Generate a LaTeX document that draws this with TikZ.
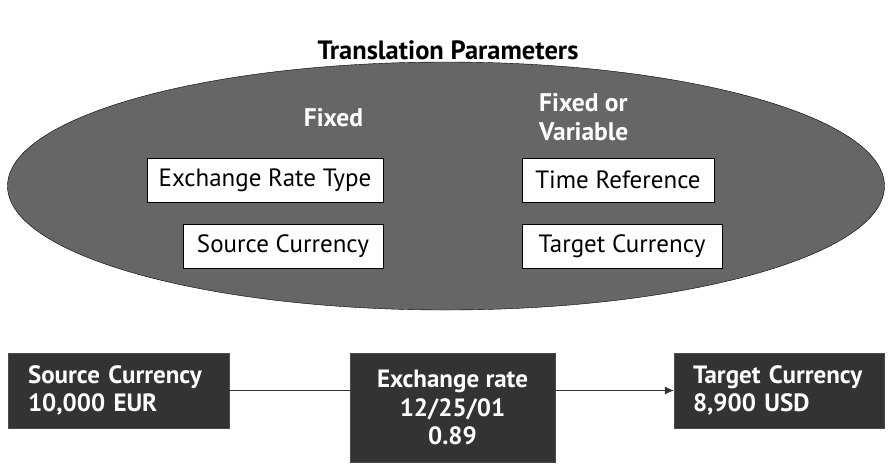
\documentclass[tikz,border=0pt]{standalone}
\usepackage{fontspec}
\setmainfont{PT Sans}
\usetikzlibrary{arrows.meta, shapes.geometric, positioning}
\definecolor{ovalgray}{RGB}{102,102,102}
\definecolor{boxdark}{RGB}{51,51,51}

\begin{document}
\begin{tikzpicture}[x=1pt,y=-1pt,
	parambox/.style={draw=black, fill=white, minimum height=44pt, inner xsep=6pt, font=\fontsize{25}{29}\selectfont},
	darkbox/.style={draw=black!70, fill=boxdark, text=white, align=left, inner xsep=20pt, font=\bfseries\fontsize{25}{28.5}\selectfont},
	headtext/.style={text=white, font=\bfseries\fontsize{25.5}{29}\selectfont}]
	\useasboundingbox (0,0) rectangle (888,464);
	\node[font=\bfseries\fontsize{26.5}{30}\selectfont] (title) at (448,50) {Translation Parameters};
	% the oval with the four parameters
	\node[ellipse, draw=black, fill=ovalgray, minimum width=877pt, minimum height=248pt] (oval) at (446,186) {};
	\node[headtext] (fixed) at (333.5,118) {Fixed};
	\node[headtext, align=left, anchor=west, inner xsep=0pt] (fixvar) at (539,117) {Fixed or\\Variable};
	\node[parambox, minimum width=236pt] (ratetype) at (265,180) {Exchange Rate Type};
	\node[parambox, minimum width=200pt] (srccur) at (283,246) {Source Currency};
	\node[parambox, minimum width=192pt] (timeref) at (618,180) {Time Reference};
	\node[parambox, minimum width=200pt] (tgtcur) at (622,246) {Target Currency};
	% conversion
	\node[darkbox, text width=181pt, minimum height=75pt] (source) at (118.5,390.5) {Source Currency\\10,000 EUR};
	\node[darkbox, align=center, inner xsep=0pt, minimum width=205pt, minimum height=109pt] (xrate) at (452.5,407.5) {Exchange rate\\12/25/01\\0.89};
	\node[darkbox, inner xsep=19pt, text width=172pt, minimum height=75pt] (target) at (779,390.5) {Target Currency\\8,900 USD};
	\draw[thick, black!80] (source.east) -- (source.east -| xrate.west);
	\draw[thick, black!80, -{Latex[length=9pt,width=8pt]}] (xrate.east |- target.west) -- (target.west);
\end{tikzpicture}
\end{document}
